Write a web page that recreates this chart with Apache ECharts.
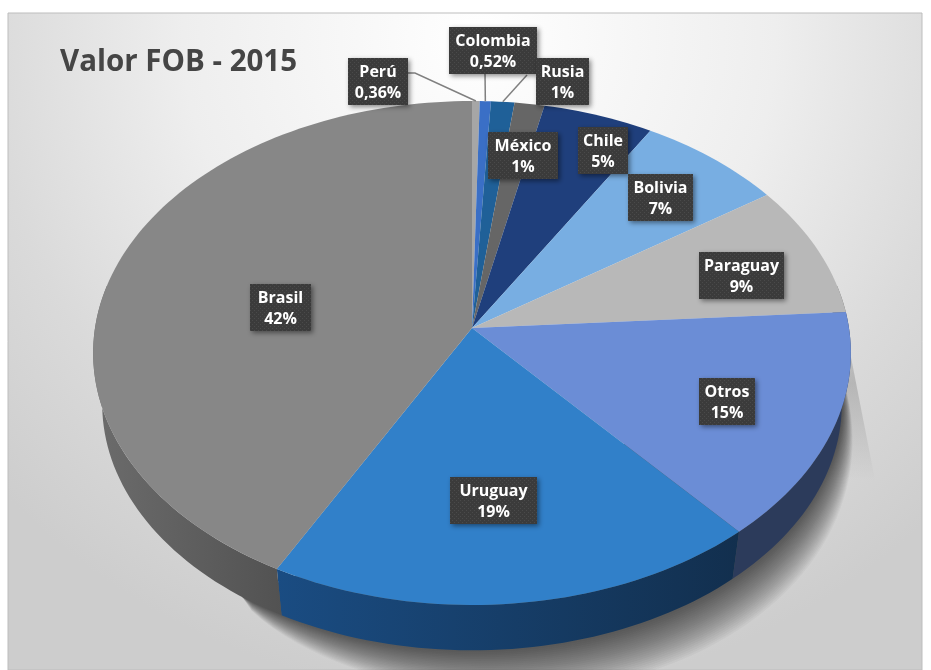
<!DOCTYPE html>
<html>
<head>
<meta charset="utf-8">
<title>Valor FOB - 2015</title>
<style>
html, body { margin: 0; padding: 0; background: #fff; }
#chart { width: 931px; height: 670px; }
</style>
<script src="https://cdn.jsdelivr.net/npm/echarts@6/dist/echarts.min.js"></script>
</head>
<body>
<div id="chart"></div>
<script>
var countries = ['Perú', 'Colombia', 'Rusia', 'México', 'Chile', 'Bolivia', 'Paraguay', 'Otros', 'Uruguay', 'Brasil'];
// read from the slice edges, the printed labels are rounded
var shares = [0.36, 0.52, 1.1, 1.4, 5.2, 6.9, 8.5, 14.65, 19.2, 42.17];
var shareLabels = ['0,36%', '0,52%', '1%', '1%', '5%', '7%', '9%', '15%', '19%', '42%'];

var topColors = ['#a6a6a6', '#3a6fc6', '#1f6098', '#666666', '#1f3f7c', '#78aee2', '#b8b8b8', '#6b8dd6', '#3180c9', '#878787'];
var wallLeft = ['#6a6a6a', '#24457c', '#133a5c', '#3e3e3e', '#13264b', '#4a6b8a', '#6f6f6f', '#2c3b5b', '#1a4c82', '#6c6c6c'];
var wallRight = ['#6a6a6a', '#24457c', '#133a5c', '#3e3e3e', '#13264b', '#4a6b8a', '#6f6f6f', '#2c3b5b', '#122f4e', '#525252'];

// label boxes, left / top / width
var labelBoxes = [
    [348, 58, 60], [449, 27, 88], [536, 58, 53], [488, 132, 70], [578, 127, 50],
    [628, 174, 65], [699, 252, 85], [699, 378, 56], [450, 477, 87], [250, 284, 61]
];
// where the leader line leaves each of the small labels
var leaderStarts = { 0: [[408, 73], [415, 73]], 1: [[485, 73]], 2: [[527, 75]] };

var BOX_H = 47;
var APEX = [472, 328];
var RX = 377, RY = 249.5, TILT = 0.0992;   // perspective of the top face
var DROP = 52, SHRINK = 0.976;             // the bottom rim of the pie

var total = shares.reduce(function (a, b) { return a + b; }, 0);

function rim(deg, scale, dy) {
    var a = deg * Math.PI / 180, u = Math.sin(a), v = Math.cos(a), w = 1 + TILT * v;
    return [APEX[0] + scale * RX * u / w, APEX[1] + dy - scale * RY * v / w];
}

function arc(from, to, scale, dy) {
    var pts = [], n = Math.max(2, Math.ceil((to - from) / 1.5));
    for (var i = 0; i <= n; i++) pts.push(rim(from + (to - from) * i / n, scale, dy));
    return pts;
}

// dotted fill of the label boxes
var dots = document.createElement('canvas');
dots.width = dots.height = 4;
var dctx = dots.getContext('2d');
dctx.fillStyle = '#3b3b3b';
dctx.fillRect(0, 0, 4, 4);
dctx.fillStyle = '#4a4a4a';
dctx.fillRect(0, 0, 1, 1);
dctx.fillRect(2, 2, 1, 1);

function renderSlice(params, api) {
    var i = api.value(0);
    var from = 0;
    for (var k = 0; k < i; k++) from += shares[k];
    var start = from / total * 360, end = (from + api.value(1)) / total * 360;
    var children = [];
    // only the front of the wall can be seen
    var wallStart = Math.max(start, 80), wallEnd = Math.min(end, 280);
    if (wallEnd > wallStart) {
        children.push({
            type: 'polygon', z2: 1,
            shape: { points: arc(wallStart, wallEnd, 1, 0).concat(arc(wallStart, wallEnd, SHRINK, DROP).reverse()) },
            style: {
                fill: {
                    type: 'linear', x: 0, y: 0, x2: 1, y2: 0,
                    colorStops: [{ offset: 0, color: wallLeft[i] }, { offset: 1, color: wallRight[i] }]
                }
            }
        });
    }
    children.push({ type: 'polygon', z2: 2, shape: { points: [APEX].concat(arc(start, end, 1, 0)) }, style: { fill: topColors[i] } });
    return { type: 'group', children: children };
}

function renderLabel(params, api) {
    var i = api.value(0), box = labelBoxes[i], children = [];
    if (leaderStarts[i]) {
        var from = 0;
        for (var k = 0; k < i; k++) from += shares[k];
        var mid = (from + shares[i] / 2) / total * 360;
        children.push({
            type: 'polyline', z2: 10,
            shape: { points: leaderStarts[i].concat([rim(mid, 1, 0)]) },
            style: { fill: null, stroke: '#808080', lineWidth: 1.5 }
        });
    }
    children.push({
        type: 'rect', z2: 11,
        shape: { x: box[0], y: box[1], width: box[2], height: BOX_H },
        style: { fill: { image: dots, repeat: 'repeat' }, shadowBlur: 5, shadowOffsetX: 2, shadowOffsetY: 2, shadowColor: 'rgba(0,0,0,0.45)' }
    });
    children.push({
        type: 'text', z2: 12,
        x: box[0] + box[2] / 2, y: box[1] + BOX_H / 2 + 1,
        style: {
            text: countries[i] + '\n' + shareLabels[i],
            fill: '#ffffff', font: 'bold 16px "Open Sans"', lineHeight: 21,
            align: 'center', verticalAlign: 'middle'
        }
    });
    return { type: 'group', children: children };
}

// soft shadow the pie drops on the backdrop, stacked thin layers that taper at both ends
function shadowLayer(k) {
    var from = 85, to = 215, pts = [], deg, t;
    for (deg = from; deg <= to; deg += 2) {
        t = Math.pow(Math.sin((deg - from) / (to - from) * Math.PI), 0.6);
        pts.push(rim(deg, SHRINK * (1 + 0.0025 * k * t), DROP + 1.4 * k * t));
    }
    return { type: 'polygon', silent: true, shape: { points: pts }, style: { fill: '#000000', opacity: 0.03 } };
}

function renderShadow() {
    var children = [{
        type: 'polygon',
        shape: { points: [rim(80, 1, 0), [875, 480], rim(118, 1, 30)] },
        style: {
            fill: {
                type: 'linear', x: 0, y: 0, x2: 0, y2: 1,
                colorStops: [
                    { offset: 0, color: 'rgba(130,130,130,0.15)' },
                    { offset: 0.5, color: 'rgba(130,130,130,0.4)' },
                    { offset: 1, color: 'rgba(130,130,130,0)' }
                ]
            }
        }
    }];
    for (var k = 1; k <= 24; k++) children.push(shadowLayer(k));
    return { type: 'group', children: children };
}

var sliceData = shares.map(function (v, i) { return [i, v]; });

var chart = echarts.init(document.getElementById('chart'));
chart.setOption({
    animation: false,
    graphic: [{
        type: 'rect', z: -10,
        shape: { x: 8, y: 13, width: 914, height: 657 },
        style: {
            stroke: '#bdbdbd', lineWidth: 1,
            fill: {
                type: 'radial', x: 0.516, y: 0.04, r: 1.0,
                colorStops: [
                    { offset: 0, color: '#ffffff' },
                    { offset: 0.45, color: '#eeeeee' },
                    { offset: 0.75, color: '#dadada' },
                    { offset: 1, color: '#cdcdcd' }
                ]
            }
        }
    }],
    title: {
        text: 'Valor FOB - 2015', left: 55, top: 43,
        textStyle: { color: '#454545', fontFamily: 'Open Sans', fontWeight: 'bold', fontSize: 29.5 }
    },
    series: [
        { type: 'custom', z: 1, renderItem: renderShadow, data: [[0]], coordinateSystem: 'none', silent: true },
        { type: 'custom', z: 2, renderItem: renderSlice, data: sliceData, coordinateSystem: 'none', silent: true },
        { type: 'custom', z: 3, renderItem: renderLabel, data: sliceData, coordinateSystem: 'none', silent: true }
    ]
});
</script>
</body>
</html>
